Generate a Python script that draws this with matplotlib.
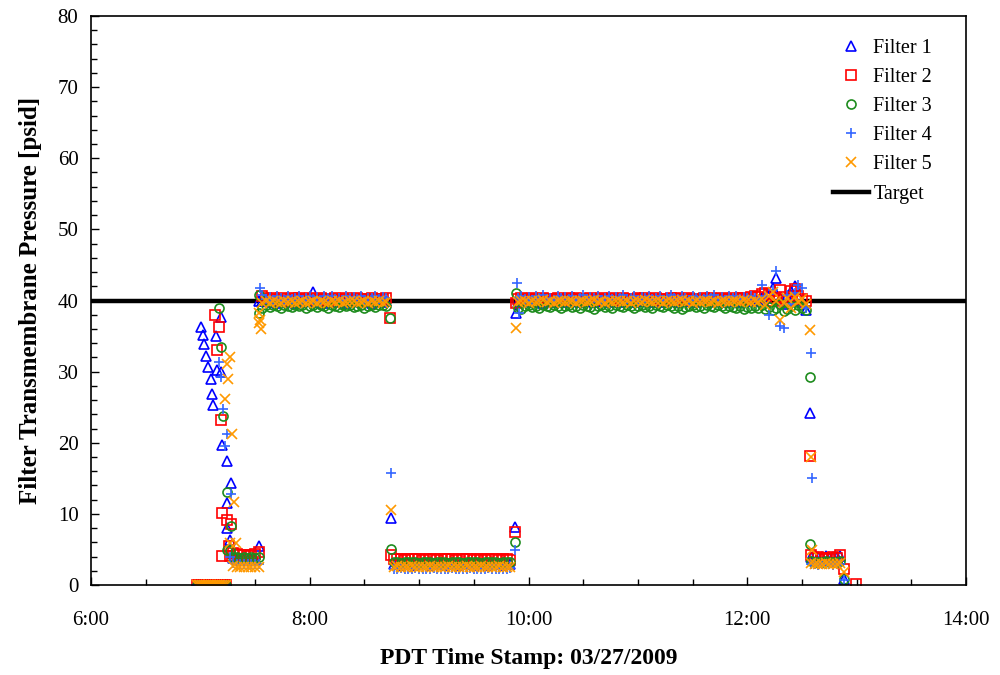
import numpy as np
import matplotlib
matplotlib.use('Agg')
from matplotlib import pyplot as plt
from matplotlib.ticker import MultipleLocator, FuncFormatter

plt.rcParams['font.family'] = ['Liberation Serif', 'DejaVu Serif']

# ---- data (time in hours, pressure in psid) ----
target = 40.0

# all filters sit at zero before the restart
zero_minutes = [418, 419, 420, 421, 422, 423, 424, 425, 426, 427, 428, 429, 430, 431, 432, 433, 434]
zero_values = [0.0, 0.0, 0.0, 0.0, 0.0, 0.0, 0.0, 0.0, 0.0, 0.0, 0.0, 0.0, 0.0, 0.0, 0.0, 0.0, 0.0]

# sampled segments on a 2 minute logger grid: start minute of each segment
low0_start = 7 * 60 + 16
p1_start = 7 * 60 + 34
low1_start = 8 * 60 + 46
p2_start = 9 * 60 + 54
low2_start = 12 * 60 + 35
step_min = 2

# Filter 1
f1_low0 = [6.4, 3.8, 3.6, 3.5, 3.6, 3.5, 3.6, 3.7, 5.5]
f1_p1 = [39.9, 40.1, 39.8, 40.0, 39.7, 40.2, 39.9, 39.8, 40.0, 39.6, 40.1, 39.8, 39.9, 40.0, 41.2, 39.8,
         40.1, 39.7, 39.9, 40.0, 39.8, 40.2, 39.9, 39.7, 40.0, 39.9, 40.1, 39.8, 39.9, 40.0, 39.7, 39.9,
         40.1, 39.8, 39.9]
f1_low1 = [2.9, 3.0, 2.8, 2.9, 3.0, 2.9, 2.8, 2.9, 3.0, 2.9, 2.8, 2.9, 2.9, 3.0, 2.8, 2.9, 3.0, 2.9,
           2.8, 2.9, 2.9, 3.0, 2.8, 2.9, 2.9, 3.0, 2.8, 2.9, 3.0, 2.9, 2.8, 2.9, 2.9]
f1_p2 = [39.8, 40.0, 39.9, 40.1, 39.8, 39.9, 40.0, 39.7, 39.9, 40.1, 39.8, 40.0, 39.9, 39.8, 40.1, 39.9,
         40.0, 39.8, 39.9, 40.2, 39.9, 39.8, 40.0, 39.9, 40.1, 39.8, 39.9, 40.0, 39.8, 39.9, 40.1, 40.0,
         39.8, 39.9, 40.0, 39.9, 40.1, 39.8, 40.0, 39.9, 39.8, 40.1, 39.9, 40.0, 39.8, 39.9, 40.0, 40.1,
         39.9, 39.8, 40.0, 39.9, 40.1, 39.8, 39.9, 40.0, 39.9, 39.8, 40.1, 40.0, 39.9, 39.8, 40.0, 39.9,
         40.1, 39.9,
         40.0, 40.3, 40.5, 41.0, 41.8, 43.1, 40.2, 39.5, 40.6, 41.4, 42.0, 40.8, 39.8, 38.7]
f1_low2 = [4.0, 4.1, 3.9, 4.0, 4.1, 4.0, 3.9, 4.0, 4.1]
f1_extra_t = [7.003, 7.021, 7.036, 7.051, 7.073, 7.094, 7.103, 7.118, 7.140, 7.150, 7.186, 7.186, 7.200,
              7.240, 7.277, 7.240, 7.246, 7.540, 8.740, 9.880, 9.885, 12.570, 12.880]
f1_extra_v = [36.3, 35.1, 33.9, 32.2, 30.7, 28.9, 26.9, 25.3, 35.0, 30.3, 30.0, 37.7, 19.7,
              17.5, 14.4, 11.6, 8.0, 40.0, 9.4, 8.2, 38.2, 24.2, 0.8]

# Filter 2
f2_low0 = [4.1, 4.5, 4.3, 4.2, 4.2, 4.1, 4.2, 4.3, 4.6]
f2_p1 = [40.6, 40.3, 40.2, 40.4, 40.1, 40.3, 40.2, 40.0, 40.3, 40.2, 40.4, 40.1, 40.2, 40.3, 40.2, 40.1,
         40.3, 40.2, 40.0, 40.2, 40.3, 40.1, 40.2, 40.4, 40.2, 40.1, 40.3, 40.2, 40.2, 40.0, 40.3, 40.2,
         40.1, 40.2, 40.3]
f2_low1 = [3.6, 3.7, 3.6, 3.5, 3.6, 3.7, 3.6, 3.6, 3.5, 3.6, 3.7, 3.6, 3.5, 3.6, 3.6, 3.7, 3.6, 3.5,
           3.6, 3.6, 3.7, 3.6, 3.5, 3.6, 3.6, 3.5, 3.6, 3.7, 3.6, 3.5, 3.6, 3.6, 3.5]
f2_p2 = [40.2, 40.3, 40.1, 40.2, 40.4, 40.2, 40.1, 40.3, 40.2, 40.2, 40.0, 40.3, 40.2, 40.1, 40.3, 40.2,
         40.4, 40.2, 40.1, 40.2, 40.3, 40.2, 40.1, 40.3, 40.2, 40.2, 40.4, 40.1, 40.2, 40.3, 40.2, 40.1,
         40.2, 40.3, 40.2, 40.4, 40.1, 40.2, 40.3, 40.2, 40.1, 40.2, 40.3, 40.2, 40.4, 40.2, 40.1, 40.3,
         40.2, 40.2, 40.1, 40.3, 40.2, 40.4, 40.2, 40.1, 40.3, 40.2, 40.2, 40.3, 40.2, 40.3, 40.4, 40.2,
         40.5, 40.6,
         40.5, 40.9, 41.0, 40.8, 39.9, 40.3, 41.5, 40.5, 40.0, 41.3, 41.6, 40.7, 40.2, 39.9]
f2_low2 = [4.2, 3.8, 3.9, 3.8, 3.7, 3.8, 3.9, 3.8, 4.2]
f2_extra_t = [7.133, 7.173, 7.150, 7.188, 7.200, 7.240, 7.277, 7.260, 7.200, 8.730, 8.745, 9.878,
              9.882, 12.570, 12.880, 12.997]
f2_extra_v = [38.0, 36.3, 33.0, 23.2, 10.1, 9.1, 8.6, 5.5, 4.1, 37.5, 4.2, 7.5,
              39.6, 18.1, 2.2, 0.2]

# Filter 3
f3_low0 = [4.9, 4.0, 3.9, 3.8, 3.9, 3.8, 3.9, 3.8, 4.0]
f3_p1 = [39.0, 39.3, 39.1, 39.4, 39.2, 39.0, 39.3, 39.2, 39.1, 39.4, 39.2, 39.3, 39.0, 39.2, 39.3, 39.1,
         39.4, 39.2, 39.0, 39.3, 39.2, 39.1, 39.3, 39.2, 39.4, 39.1, 39.2, 39.3, 39.0, 39.2, 39.3, 39.1,
         39.4, 39.3, 39.2]
f3_low1 = [3.3, 3.2, 3.1, 3.2, 3.3, 3.2, 3.2, 3.1, 3.3, 3.2, 3.2, 3.1, 3.2, 3.3, 3.2, 3.1, 3.2, 3.2,
           3.3, 3.1, 3.2, 3.2, 3.3, 3.2, 3.1, 3.2, 3.2, 3.3, 3.2, 3.1, 3.2, 3.3, 3.2]
f3_p2 = [39.0, 38.8, 39.2, 39.3, 39.1, 39.2, 39.0, 39.3, 39.2, 39.1, 39.3, 39.2, 38.9, 39.2, 39.3, 39.1,
         39.2, 39.0, 39.3, 39.2, 39.1, 38.8, 39.2, 39.3, 39.1, 39.2, 39.0, 39.3, 39.2, 39.1, 39.3, 39.2,
         39.0, 39.2, 39.3, 39.1, 39.2, 38.9, 39.3, 39.2, 39.1, 39.3, 39.2, 39.0, 39.2, 38.8, 39.1, 39.2,
         39.3, 39.1, 39.2, 39.0, 39.3, 39.2, 39.1, 39.3, 39.2, 38.9, 39.2, 39.1, 39.0, 39.2, 38.8, 39.1,
         39.0, 39.2,
         39.0, 39.3, 38.8, 39.1, 38.6, 38.9, 39.5, 38.5, 38.8, 39.2, 38.7, 39.4, 38.9, 38.6]
f3_low2 = [3.4, 3.3, 3.2, 3.3, 3.4, 3.3, 3.2, 3.3, 3.4]
f3_extra_t = [7.173, 7.186, 7.204, 7.240, 7.277, 7.240, 7.535, 7.540, 8.730, 8.745, 9.878, 9.882,
              12.570, 12.575, 12.880]
f3_extra_v = [38.9, 33.5, 23.7, 13.1, 8.3, 4.9, 40.8, 38.3, 37.5, 5.0, 6.1, 41.0,
              29.2, 5.8, 0.9]

# Filter 4
f4_low0 = [3.9, 3.1, 3.0, 2.9, 3.0, 2.9, 3.0, 2.9, 3.0]
f4_p1 = [40.8, 40.2, 40.5, 40.1, 40.6, 40.3, 40.0, 40.7, 40.2, 40.4, 40.6, 40.1, 40.3, 40.7, 40.2, 40.5,
         40.0, 40.6, 40.3, 40.7, 40.2, 40.4, 40.1, 40.6, 40.3, 40.5, 40.2, 40.7, 40.1, 40.4, 40.3, 40.6,
         40.2, 40.5, 40.3]
f4_low1 = [2.3, 2.2, 2.4, 2.3, 2.2, 2.3, 2.4, 2.3, 2.2, 2.3, 2.3, 2.4, 2.2, 2.3, 2.3, 2.2, 2.4, 2.3,
           2.3, 2.2, 2.3, 2.4, 2.3, 2.2, 2.3, 2.3, 2.4, 2.2, 2.3, 2.3, 2.2, 2.3, 2.4]
f4_p2 = [40.3, 40.7, 40.2, 40.5, 40.1, 40.6, 40.3, 40.8, 40.2, 40.4, 40.1, 40.7, 40.3, 40.5, 40.2, 40.6,
         40.1, 40.4, 40.8, 40.2, 40.5, 40.3, 40.6, 40.1, 40.4, 40.7, 40.2, 40.5, 40.3, 40.8, 40.2, 40.4,
         40.6, 40.1, 40.5, 40.3, 40.7, 40.2, 40.4, 40.6, 40.1, 40.5, 40.8, 40.3, 40.2, 40.6, 40.4, 40.1,
         40.7, 40.3, 40.5, 40.2, 40.6, 40.4, 40.8, 40.2, 40.5, 40.1, 40.6, 40.3, 40.7, 40.2, 40.5, 40.3,
         40.6, 40.4,
         40.2, 42.2, 40.6, 38.0, 41.5, 44.2, 36.4, 36.2, 40.8, 39.5, 41.0, 42.2, 41.8, 38.9]
f4_low2 = [3.0, 2.9, 2.8, 2.9, 3.0, 2.9, 2.8, 2.9, 3.0]
f4_extra_t = [7.170, 7.188, 7.210, 7.240, 7.225, 7.280, 7.545, 8.742, 9.880, 9.895, 9.915,
              12.580, 12.590, 12.880]
f4_extra_v = [31.3, 29.2, 24.8, 21.2, 19.5, 12.8, 41.7, 15.8, 4.9, 42.5, 38.2,
              32.6, 15.0, 0.7]

# Filter 5
f5_low0 = [5.9, 2.7, 2.6, 2.5, 2.6, 2.5, 2.6, 2.5, 2.6]
f5_p1 = [39.6, 39.9, 39.7, 40.0, 39.8, 39.7, 39.9, 39.8, 40.0, 39.7, 39.8, 39.9, 39.6, 39.8, 40.0, 39.7,
         39.9, 39.8, 39.7, 40.0, 39.8, 39.9, 39.7, 39.8, 40.0, 39.9, 39.7, 39.8, 39.9, 39.7, 40.0, 39.8,
         39.9, 39.7, 39.8]
f5_low1 = [2.6, 2.7, 2.5, 2.6, 2.6, 2.7, 2.5, 2.6, 2.6, 2.5, 2.7, 2.6, 2.6, 2.5, 2.6, 2.7, 2.6, 2.5,
           2.6, 2.6, 2.7, 2.5, 2.6, 2.6, 2.7, 2.6, 2.5, 2.6, 2.6, 2.7, 2.6, 2.5, 2.6]
f5_p2 = [39.8, 40.0, 39.9, 39.7, 40.0, 39.8, 39.9, 40.1, 39.8, 39.9, 39.7, 40.0, 39.9, 39.8, 40.0, 39.9,
         39.7, 39.9, 40.0, 39.8, 39.9, 40.1, 39.8, 39.9, 39.7, 40.0, 39.8, 39.9, 40.0, 39.8, 39.9, 39.7,
         40.0, 39.9, 39.8, 40.1, 39.9, 39.8, 40.0, 39.9, 39.7, 39.9, 40.0, 39.8, 39.9, 40.1, 39.8, 39.9,
         39.7, 40.0, 39.8, 39.9, 40.0, 39.8, 39.9, 39.7, 40.0, 39.9, 39.8, 40.0, 39.9, 39.8, 40.1, 39.9,
         39.8, 40.0,
         39.8, 40.2, 39.3, 40.6, 41.2, 40.0, 37.3, 39.6, 40.4, 39.0, 40.5, 39.8, 40.2, 39.5]
f5_low2 = [3.1, 3.0, 2.9, 3.0, 3.1, 3.0, 2.9, 3.0, 3.1]
f5_extra_t = [7.270, 7.240, 7.255, 7.225, 7.286, 7.307, 7.326, 7.535, 7.540, 7.545, 7.550, 8.742,
              9.890, 12.575, 12.585, 12.590, 12.880]
f5_extra_v = [32.1, 31.1, 28.9, 26.2, 21.2, 11.7, 5.9, 38.2, 36.8, 37.3, 36.0, 10.6,
              36.2, 35.9, 18.0, 4.9, 1.8]

labels = ['Filter 1', 'Filter 2', 'Filter 3', 'Filter 4', 'Filter 5']
markers = ['^', 's', 'o', '+', 'x']
colours = ['#0000FF', '#FF0000', '#1E8C1E', '#3366FF', '#FF9900']


def grid_hours(start_minute, values):
    return (start_minute + step_min * np.arange(len(values))) / 60.0


def build_series(low0, p1, low1, p2, low2, extra_t, extra_v):
    t = np.concatenate([np.array(zero_minutes) / 60.0,
                        grid_hours(low0_start, low0), grid_hours(p1_start, p1),
                        grid_hours(low1_start, low1), grid_hours(p2_start, p2),
                        grid_hours(low2_start, low2), extra_t])
    v = np.concatenate([zero_values, low0, p1, low1, p2, low2, extra_v])
    return t, v


series = [
    build_series(f1_low0, f1_p1, f1_low1, f1_p2, f1_low2, f1_extra_t, f1_extra_v),
    build_series(f2_low0, f2_p1, f2_low1, f2_p2, f2_low2, f2_extra_t, f2_extra_v),
    build_series(f3_low0, f3_p1, f3_low1, f3_p2, f3_low2, f3_extra_t, f3_extra_v),
    build_series(f4_low0, f4_p1, f4_low1, f4_p2, f4_low2, f4_extra_t, f4_extra_v),
    build_series(f5_low0, f5_p1, f5_low1, f5_p2, f5_low2, f5_extra_t, f5_extra_v),
]

fig = plt.figure(figsize=(10, 6.75), dpi=100)
ax = fig.add_axes([0.091, 0.1333, 0.875, 0.843])

ax.axhline(target, color='black', linewidth=3.2, zorder=1)

for (t, v), label, marker, colour in zip(series, labels, markers, colours):
    if marker in ('+', 'x'):
        ax.plot(t, v, linestyle='none', marker=marker, markersize=7, markeredgewidth=1.2,
                color=colour, label=label, zorder=2)
    else:
        ax.plot(t, v, linestyle='none', marker=marker, markersize=6.5, markeredgewidth=1.2,
                markerfacecolor='none', markeredgecolor=colour, label=label, zorder=2)

ax.plot([], [], color='black', linewidth=3.2, label='Target')

ax.set_xlim(6, 14)
ax.set_ylim(0, 80)
ax.xaxis.set_major_locator(MultipleLocator(2))
ax.xaxis.set_minor_locator(MultipleLocator(0.5))
ax.yaxis.set_major_locator(MultipleLocator(10))
ax.yaxis.set_minor_locator(MultipleLocator(2))
ax.xaxis.set_major_formatter(FuncFormatter(lambda x, pos: f'{int(round(x))}:00'))
ax.tick_params(which='both', direction='in', top=False, right=False, labelsize=15)
ax.tick_params(which='major', length=6, width=1)
ax.tick_params(which='minor', length=4, width=1)
ax.tick_params(axis='x', pad=19)
ax.tick_params(axis='y', pad=9)
for spine in ax.spines.values():
    spine.set_linewidth(1.2)

ax.set_xlabel('PDT Time Stamp: 03/27/2009', fontsize=17, fontweight='bold', labelpad=13)
ax.set_ylabel('Filter Transmembrane Pressure [psid]', fontsize=18, fontweight='bold', labelpad=11)

ax.legend(loc='upper right', bbox_to_anchor=(0.982, 0.992), frameon=False, fontsize=14.5,
          numpoints=1, handlelength=1.8, handletextpad=0.2, labelspacing=0.5)

fig.savefig('out.png', dpi=100)
